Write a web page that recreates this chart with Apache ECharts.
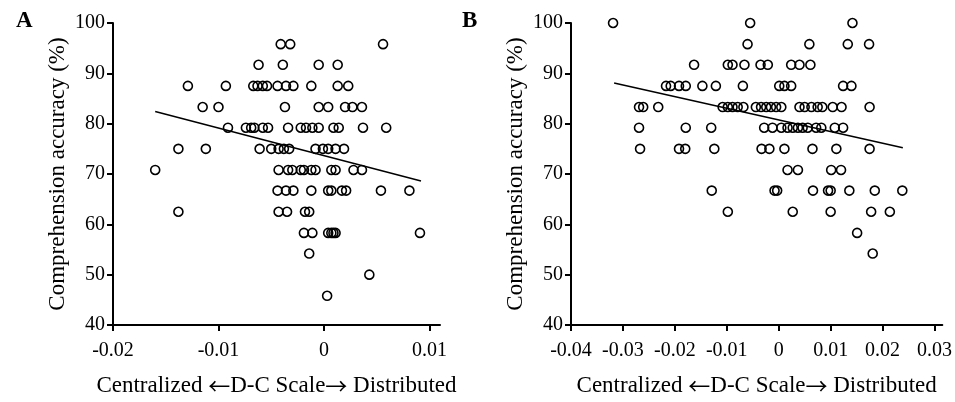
<!DOCTYPE html>
<html>
<head>
<meta charset="utf-8">
<script src="https://cdn.jsdelivr.net/npm/echarts@6/dist/echarts.min.js"></script>
<style>html,body{margin:0;padding:0;background:#fff}#c{width:955px;height:402px}</style>
</head>
<body>
<div id="c"></div>
<script>
// Accuracy levels (rows of points), percent
const levels = [100, 95.8, 91.7, 87.5, 83.3, 79.2, 75, 70.8, 66.7, 62.5, 58.3, 54.2, 50, 45.8];

// Panel A: D-C scale values for each accuracy level (same order as levels)
const dcA = [
  [],
  [-0.0041, -0.0032, 0.0056],
  [-0.0062, -0.0039, -0.0005, 0.0013],
  [-0.0129, -0.0093, -0.0067, -0.0063, -0.0058, -0.0054, -0.0044, -0.0036, -0.0029, -0.0012, 0.0013, 0.0023],
  [-0.0115, -0.0100, -0.0037, -0.0005, 0.0004, 0.0020, 0.0027, 0.0036],
  [-0.0091, -0.0074, -0.0069, -0.0066, -0.0058, -0.0053, -0.0034, -0.0022, -0.0017, -0.0011, -0.0005, 0.0009, 0.0014, 0.0037, 0.0059],
  [-0.0138, -0.0112, -0.0061, -0.0050, -0.0043, -0.0038, -0.0033, -0.0008, -0.0001, 0.0004, 0.0011, 0.0019],
  [-0.0160, -0.0043, -0.0034, -0.0030, -0.0022, -0.0019, -0.0012, -0.0008, 0.0007, 0.0011, 0.0028, 0.0036],
  [-0.0044, -0.0036, -0.0029, -0.0012, 0.0004, 0.0007, 0.0017, 0.0021, 0.0054, 0.0081],
  [-0.0138, -0.0043, -0.0035, -0.0018, -0.0014],
  [-0.0019, -0.0011, 0.0004, 0.0007, 0.0009, 0.0011, 0.0091],
  [-0.0014],
  [0.0043],
  [0.0003]
];

// Panel B
const dcB = [
  [-0.0319, -0.0055, 0.0142],
  [-0.0060, 0.0059, 0.0133, 0.0174],
  [-0.0163, -0.0098, -0.0089, -0.0066, -0.0035, -0.0021, 0.0024, 0.0040, 0.0061],
  [-0.0217, -0.0208, -0.0192, -0.0179, -0.0147, -0.0121, -0.0069, 0.0001, 0.0011, 0.0024, 0.0124, 0.0140],
  [-0.0269, -0.0261, -0.0232, -0.0108, -0.0098, -0.0089, -0.0079, -0.0068, -0.0044, -0.0034, -0.0024, -0.0015, -0.0005, 0.0005, 0.0040, 0.0050, 0.0063, 0.0075, 0.0084, 0.0104, 0.0121, 0.0175],
  [-0.0269, -0.0179, -0.0130, -0.0028, -0.0012, 0.0005, 0.0017, 0.0027, 0.0037, 0.0046, 0.0056, 0.0072, 0.0082, 0.0108, 0.0124],
  [-0.0267, -0.0192, -0.0180, -0.0124, -0.0033, -0.0018, 0.0011, 0.0065, 0.0111, 0.0175],
  [0.0017, 0.0037, 0.0101, 0.0120],
  [-0.0129, -0.0008, -0.0003, 0.0066, 0.0095, 0.0100, 0.0136, 0.0185, 0.0238],
  [-0.0098, 0.0027, 0.0100, 0.0178, 0.0214],
  [0.0151],
  [0.0181],
  [],
  []
];

// Regression lines (endpoints)
const fitAx = [-0.0160, 0.0092];
const fitAy = [82.4, 68.6];
const fitBx = [-0.0317, 0.0239];
const fitBy = [88.1, 75.2];

// Tick labels
const yTicks = [40, 50, 60, 70, 80, 90, 100];
const xTicksA = [-0.02, -0.01, 0, 0.01];
const xTickLabelsA = ['-0.02', '-0.01', '0', '0.01'];
const xTicksB = [-0.04, -0.03, -0.02, -0.01, 0, 0.01, 0.02, 0.03];
const xTickLabelsB = ['-0.04', '-0.03', '-0.02', '-0.01', '0', '0.01', '0.02', '0.03'];

const xTitle = 'Centralized {ar|\u2190}D-C Scale{ar|\u2192} Distributed';
const yTitle = 'Comprehension accuracy (%)';
const FONT = '"Liberation Serif", "Times New Roman", serif';

function pts(rows) {
  const out = [];
  rows.forEach((r, i) => r.forEach(x => out.push([x, levels[i]])));
  return out;
}
function lbl(ticks, labels) {
  return v => {
    let best = 0;
    ticks.forEach((t, i) => { if (Math.abs(t - v) < Math.abs(ticks[best] - v)) best = i; });
    return labels[best];
  };
}
function makeX(gi, min, max, ticks, labels) {
  return {
    type: 'value', gridIndex: gi, min: min, max: max, interval: 0.01,
    axisLine: { show: true, onZero: false, lineStyle: { color: '#000', width: 2 } },
    axisTick: { show: true, customValues: ticks, length: 6, inside: false, lineStyle: { color: '#000', width: 2 } },
    axisLabel: { show: true, customValues: ticks, formatter: lbl(ticks, labels), fontFamily: FONT, fontSize: 20, color: '#000', margin: 16 },
    splitLine: { show: false },
    name: xTitle, nameLocation: 'middle', nameGap: 49,
    nameTextStyle: {
      fontFamily: FONT, fontSize: 23, color: '#000',
      rich: { ar: { fontFamily: '"Noto Sans CJK SC"', fontSize: 22, color: '#000' } }
    }
  };
}
function makeY(gi) {
  return {
    type: 'value', gridIndex: gi, min: yTicks[0], max: yTicks[yTicks.length - 1], interval: 10,
    axisLine: { show: true, onZero: false, lineStyle: { color: '#000', width: 2 } },
    axisTick: { show: true, length: 6, inside: false, lineStyle: { color: '#000', width: 2 } },
    axisLabel: { show: true, fontFamily: FONT, fontSize: 20, color: '#000', margin: 8 },
    splitLine: { show: false },
    name: yTitle, nameLocation: 'middle', nameGap: 44, nameRotate: 90,
    nameTextStyle: { fontFamily: FONT, fontSize: 23, color: '#000' }
  };
}
function scatter(gi, rows) {
  return {
    type: 'scatter', xAxisIndex: gi, yAxisIndex: gi, data: pts(rows),
    symbol: 'circle', symbolSize: 9,
    itemStyle: { color: 'rgba(0,0,0,0)', borderColor: '#000', borderWidth: 1.6, opacity: 1 },
    emphasis: { disabled: true }, silent: true, z: 3
  };
}
function fit(gi, xs, ys) {
  return {
    type: 'line', xAxisIndex: gi, yAxisIndex: gi,
    data: xs.map((x, i) => [x, ys[i]]),
    symbol: 'none', lineStyle: { color: '#000', width: 1.5 }, silent: true, z: 2
  };
}

const chart = echarts.init(document.getElementById('c'), null, { renderer: 'canvas' });
chart.setOption({
  animation: false,
  backgroundColor: '#fff',
  title: [
    { text: 'A', left: 11, top: 5, textStyle: { fontFamily: FONT, fontWeight: 'bold', fontSize: 23, color: '#000' } },
    { text: 'B', left: 457, top: 5, textStyle: { fontFamily: FONT, fontWeight: 'bold', fontSize: 23, color: '#000' } }
  ],
  grid: [
    { left: 113, top: 23, width: 327, height: 302 },
    { left: 571, top: 23, width: 372, height: 302 }
  ],
  xAxis: [makeX(0, -0.02, 0.011, xTicksA, xTickLabelsA), makeX(1, -0.04, 0.0315, xTicksB, xTickLabelsB)],
  yAxis: [makeY(0), makeY(1)],
  series: [scatter(0, dcA), fit(0, fitAx, fitAy), scatter(1, dcB), fit(1, fitBx, fitBy)]
});
</script>
</body>
</html>
